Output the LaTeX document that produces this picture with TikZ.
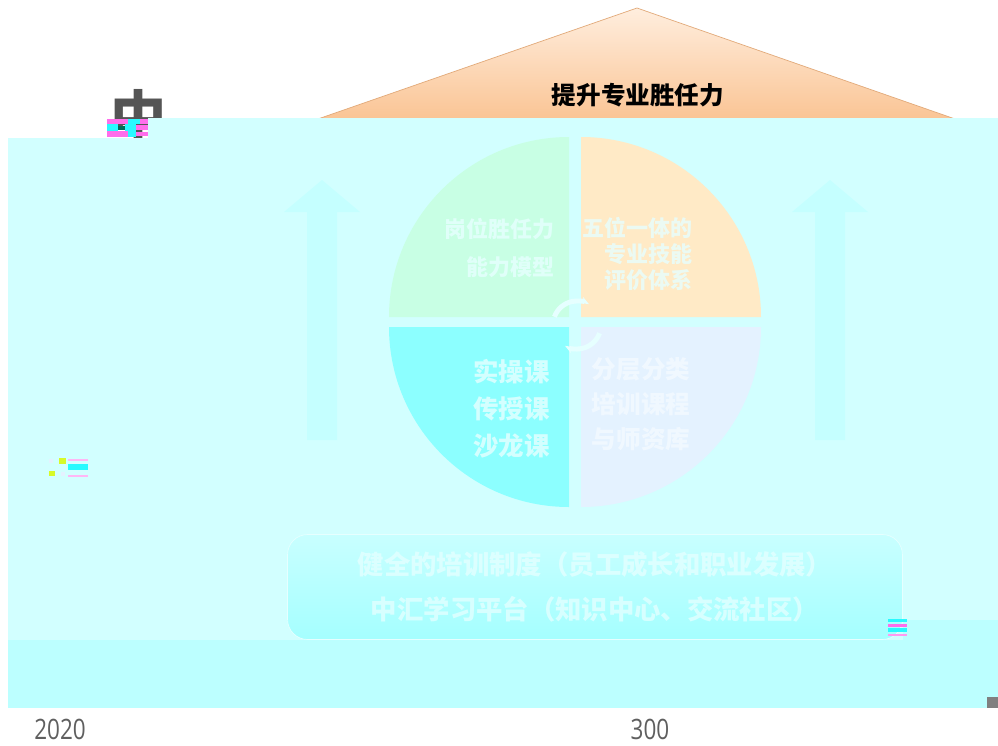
\documentclass[tikz,border=0pt]{standalone}
\usepackage{fontspec}
\usepackage{xcolor}
\usetikzlibrary{shapes,arrows.meta,positioning}
\setmainfont{Open Sans}
\newfontfamily\cjk{Noto Sans CJK SC}
\definecolor{veilcyan}{RGB}{210,255,255}
\definecolor{veildeep}{RGB}{188,255,255}
\definecolor{peaktop}{RGB}{255,238,222}
\definecolor{peakbot}{RGB}{250,196,148}
\definecolor{peakedge}{RGB}{226,170,122}
\definecolor{markgray}{RGB}{85,85,85}
\definecolor{qgreen}{RGB}{200,255,228}
\definecolor{qorange}{RGB}{255,234,198}
\definecolor{qcyan}{RGB}{140,255,255}
\definecolor{qlav}{RGB}{228,242,255}
\definecolor{ghost}{RGB}{230,255,255}
\definecolor{arrowfaint}{RGB}{197,255,255}
\definecolor{boxtop}{RGB}{200,255,255}
\definecolor{boxbot}{RGB}{165,255,255}
\definecolor{glpink}{RGB}{255,110,235}
\definecolor{glcyan}{RGB}{40,250,255}
\definecolor{gllime}{RGB}{215,250,40}
\definecolor{glteal}{RGB}{0,110,90}
\definecolor{yeargray}{RGB}{95,95,95}

\begin{document}
\begin{tikzpicture}[x=0.02cm,y=-0.02cm]
\tikzset{title/.style={font=\cjk\bfseries\fontsize{14}{14}\selectfont,text=black},
  qtext/.style={font=\cjk\bfseries\fontsize{12.5}{15}\selectfont,text=ghost,text opacity=0.8,inner sep=0pt},
  basebox/.style={rectangle,rounded corners=0.4cm,top color=boxtop,bottom color=boxbot,draw=ghost,minimum width=12.3cm,minimum height=2.1cm},
  basetext/.style={font=\cjk\bfseries\fontsize{15}{26}\selectfont,text=ghost,text opacity=0.75,align=center},
  year/.style={font=\fontsize{16}{16}\selectfont,text=yeargray,inner sep=0pt}}
\fill[white] (0,0) rectangle (998,745);
\useasboundingbox (0,0) rectangle (998,745);
% roof
\shade[top color=peaktop,bottom color=peakbot,draw=peakedge] (637,8) -- (958,120) -- (315,120) -- cycle;
\node[title] (peak) at (638,95) {提升专业胜任力};
\node[font=\cjk\bfseries\fontsize{32}{32}\selectfont,text=markgray] (cut) at (139,116) {中};
% veil over the page
\fill[veilcyan] (8,138) rectangle (998,708);
\fill[veilcyan] (148,118) rectangle (998,138);
\fill[veildeep] (8,640) rectangle (998,708);
\fill[veildeep] (903,620) rectangle (998,640);
% side arrows
\fill[arrowfaint] (307,440) -- (307,212) -- (284,212) -- (322,180) -- (360,212) -- (337,212) -- (337,440) -- cycle;
\fill[arrowfaint] (815,440) -- (815,212) -- (792,212) -- (830,180) -- (868,212) -- (845,212) -- (845,440) -- cycle;
% wheel
\fill[qgreen] (569,317) -- ++(180:180) arc[start angle=180,end angle=270,radius=180] -- cycle;
\fill[qorange] (581,317) -- ++(270:180) arc[start angle=270,end angle=360,radius=180] -- cycle;
\fill[qlav] (581,327) -- ++(0:180) arc[start angle=0,end angle=90,radius=180] -- cycle;
\fill[qcyan] (569,327) -- ++(90:180) arc[start angle=90,end angle=180,radius=180] -- cycle;
\draw[ghost,line width=2.8pt,-{Stealth[length=5pt]}] (577,325) ++(200:24) arc[start angle=200,end angle=300,radius=24];
\draw[ghost,line width=2.8pt,-{Stealth[length=5pt]}] (577,325) ++(20:24) arc[start angle=20,end angle=120,radius=24];
\node[qtext,align=right,anchor=east,font=\cjk\bfseries\fontsize{12.5}{22}\selectfont] (tlq) at (555,248) {岗位胜任力\\能力模型};
\node[qtext,align=right,anchor=east] (trq) at (693,254) {五位一体的\\专业技能\\评价体系};
\node[qtext,align=right,anchor=east,font=\cjk\bfseries\fontsize{14.5}{21}\selectfont] (blq) at (550,409) {实操课\\传授课\\沙龙课};
\node[qtext,align=center,text=qlav!40!white,font=\cjk\bfseries\fontsize{14}{20}\selectfont] (brq) at (641,404) {分层分类\\培训课程\\与师资库};
% base
\node[basebox] (base) at (595,587) {};
\node[basetext] (basetxt) at (base) {健全的培训制度（员工成长和职业发展）\\中汇学习平台（知识中心、交流社区）};
% stray marks
\fill[glpink] (107,119) rectangle (128,124);
\fill[glcyan] (128,119) rectangle (140,124);
\fill[glpink] (140,119) rectangle (148,124);
\fill[glcyan] (107,124) rectangle (118,131);
\fill[glteal] (118,126) rectangle (125,130);
\fill[glcyan] (125,124) rectangle (136,131);
\fill[glpink] (136,125) rectangle (148,130);
\fill[glpink] (107,131) rectangle (128,137);
\fill[glcyan] (128,131) rectangle (136,137);
\fill[glpink] (136,132) rectangle (148,136);
\fill[gllime] (59,458) rectangle (66,464);
\fill[qlav] (49,459) rectangle (53,463);
\fill[glpink!50] (68,459) rectangle (88,461);
\fill[glcyan] (68,464) rectangle (88,470);
\fill[gllime] (49,471) rectangle (55,476);
\fill[qlav] (61,472) rectangle (65,476);
\fill[glpink!50] (68,475) rectangle (88,477);
\fill[glcyan] (888,619) rectangle (907,622);
\fill[glpink] (888,624) rectangle (907,627);
\fill[glcyan] (888,628) rectangle (907,632);
\fill[glpink!70] (888,634) rectangle (907,636);
\fill[gray] (987,697) rectangle (998,708);
% years
\node[year] (ya) at (60,729) {\scalebox{0.8}[1]{2020}};
\node[year] (yb) at (650,729) {\scalebox{0.8}[1]{300}};
\end{tikzpicture}
\end{document}
